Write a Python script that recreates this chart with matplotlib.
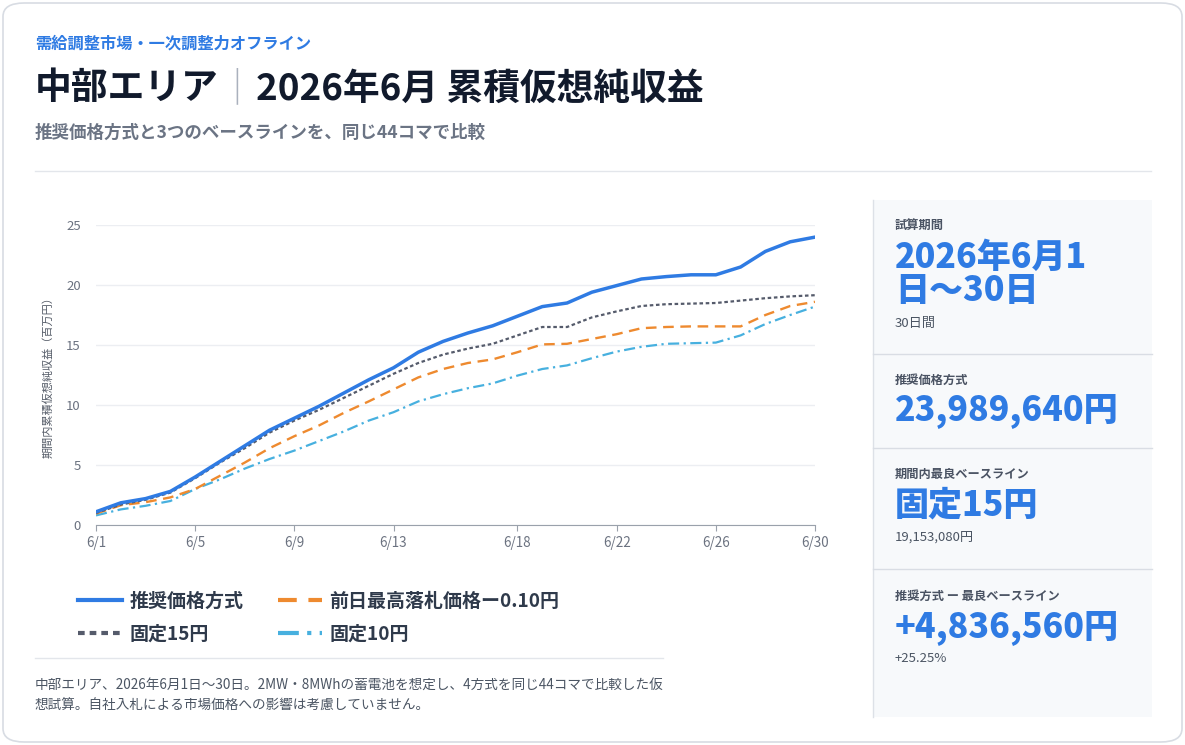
import numpy as np
import matplotlib as mpl
import matplotlib.pyplot as plt
from matplotlib.patches import FancyBboxPatch, Rectangle
from matplotlib.lines import Line2D

mpl.rcParams['font.family'] = ['Noto Sans CJK JP', 'DejaVu Sans']
mpl.rcParams['axes.unicode_minus'] = False

# cumulative virtual net revenue, million yen, 6/1 .. 6/30
days = list(range(1, 31))
recommended = [1.1, 1.85, 2.2, 2.8, 4.0, 5.3, 6.6, 7.9, 8.9, 9.9, 11.0, 12.1, 13.1, 14.4, 15.3,
               16.0, 16.6, 17.4, 18.2, 18.5, 19.4, 19.95, 20.5, 20.7, 20.85, 20.85, 21.5, 22.8, 23.6, 23.99]
prevday_max = [0.95, 1.65, 1.9, 2.3, 3.0, 4.1, 5.2, 6.4, 7.4, 8.3, 9.35, 10.3, 11.3, 12.3, 13.0,
               13.5, 13.8, 14.4, 15.05, 15.1, 15.5, 15.9, 16.4, 16.5, 16.55, 16.55, 16.55, 17.5, 18.25, 18.6]
fixed15 = [1.0, 1.7, 2.1, 2.7, 3.9, 5.2, 6.4, 7.7, 8.7, 9.6, 10.6, 11.6, 12.6, 13.5, 14.2,
           14.7, 15.1, 15.8, 16.5, 16.5, 17.3, 17.8, 18.25, 18.4, 18.45, 18.5, 18.7, 18.9, 19.05, 19.15]
fixed10 = [0.8, 1.3, 1.6, 2.0, 3.0, 3.8, 4.7, 5.5, 6.2, 7.0, 7.8, 8.7, 9.4, 10.3, 10.9,
           11.4, 11.8, 12.45, 13.0, 13.3, 13.9, 14.45, 14.85, 15.1, 15.15, 15.2, 15.8, 16.75, 17.5, 18.2]

xticks = [1, 5, 9, 13, 18, 22, 26, 30]
xticklabels = ['6/1', '6/5', '6/9', '6/13', '6/18', '6/22', '6/26', '6/30']
yticks = [0, 5, 10, 15, 20, 25]

names = ['推奨価格方式', '前日最高落札価格ー0.10円', '固定15円', '固定10円']

BLUE = '#2f7be3'
ORANGE = '#ee8a2f'
GRAY = '#555b6b'
CYAN = '#47b0df'

W, H = 1185, 745
fig = plt.figure(figsize=(W / 100, H / 100), dpi=100)

def fx(x):
    return x / W

def fy(y):
    return 1 - y / H

# card
card = FancyBboxPatch((fx(3), fy(742)), fx(1179), (739) / H,
                      boxstyle='round,pad=0,rounding_size=0.018',
                      transform=fig.transFigure, facecolor='white',
                      edgecolor='#d8dce3', linewidth=1.2, zorder=-5)
fig.patches.append(card)

# header
fig.text(fx(35), fy(44), '需給調整市場・一次調整力オフライン', fontsize=11.7,
         fontweight='bold', color=BLUE, va='center')
renderer = fig.canvas.get_renderer()
t1 = fig.text(fx(35), fy(89), '中部エリア', fontsize=26.5, fontweight='bold',
              color='#111a2c', va='center')
bb = t1.get_window_extent(renderer)
t2 = fig.text(bb.x1 / W, fy(89), '｜', fontsize=26.5, color='#aab1bd', va='center')
bb = t2.get_window_extent(renderer)
fig.text(bb.x1 / W, fy(89), '2026年6月 累積仮想純収益', fontsize=26.5,
         fontweight='bold', color='#111a2c', va='center')
fig.text(fx(35), fy(133), '推奨価格方式と3つのベースラインを、同じ44コマで比較',
         fontsize=12.6, fontweight='bold', color='#6b7484', va='center')
fig.lines.append(Line2D([fx(35), fx(1151)], [fy(171), fy(171)],
                        transform=fig.transFigure, color='#e3e6eb', lw=1))

# chart
ax = fig.add_axes([fx(96), fy(525), (815 - 96) / W, 300 / H])
ax.patch.set_alpha(0)
ax.plot(days, fixed10, color=CYAN, lw=1.6, dashes=(5, 2, 1, 2), label=names[3])
ax.plot(days, prevday_max, color=ORANGE, lw=1.7, dashes=(4.5, 2.8), label=names[1])
ax.plot(days, fixed15, color=GRAY, lw=1.6, dashes=(1.6, 1.2), label=names[2])
ax.plot(days, recommended, color=BLUE, lw=2.5, label=names[0])
ax.set_xlim(1, 30)
ax.set_ylim(0, 25)
ax.set_xticks(xticks)
ax.set_xticklabels(xticklabels)
ax.set_yticks(yticks)
ax.grid(axis='y', color='#eceef2', lw=1)
ax.set_axisbelow(True)
for s in ['top', 'right', 'left']:
    ax.spines[s].set_visible(False)
ax.spines['bottom'].set_color('#9aa1ab')
ax.tick_params(axis='y', length=0, pad=11, labelsize=9.5, labelcolor='#6b7280')
ax.tick_params(axis='x', length=4, color='#9aa1ab', pad=4, labelsize=9.7, labelcolor='#6b7280')
ax.set_ylabel('期間内累積仮想純収益（百万円）', fontsize=8, color='#555c68', labelpad=9)

# legend
h = {l.get_label(): l for l in ax.get_lines()}
order = [names[0], names[2], names[1], names[3]]
leg = fig.legend([h[n] for n in order], order, loc='upper left',
                 bbox_to_anchor=(fx(61), fy(575)), ncol=2, frameon=False,
                 prop={'size': 13.7, 'weight': 'bold'}, handlelength=2.3,
                 handletextpad=0.4, columnspacing=1.8, labelspacing=0.72)
for t in leg.get_texts():
    t.set_color('#2f3a4b')
for l in leg.get_lines():
    l.set_linewidth(3)

fig.lines.append(Line2D([fx(35), fx(663)], [fy(658), fy(658)],
                        transform=fig.transFigure, color='#e3e6eb', lw=1))
fig.text(fx(35), fy(685), '中部エリア、2026年6月1日〜30日。2MW・8MWhの蓄電池を想定し、4方式を同じ44コマで比較した仮',
         fontsize=9.8, color='#4b5563', va='center')
fig.text(fx(35), fy(706), '想試算。自社入札による市場価格への影響は考慮していません。',
         fontsize=9.8, color='#4b5563', va='center')

# right panel
fig.patches.append(Rectangle((fx(873), fy(717)), (1152 - 873) / W, 517 / H,
                             transform=fig.transFigure, facecolor='#f7f9fb',
                             edgecolor='none', zorder=-4))
fig.lines.append(Line2D([fx(873), fx(873)], [fy(200), fy(717)],
                        transform=fig.transFigure, color='#dde1e7', lw=1))
for yy in [354, 448, 569]:
    fig.lines.append(Line2D([fx(873), fx(1152)], [fy(yy), fy(yy)],
                            transform=fig.transFigure, color='#d9dde4', lw=1))

LBL = dict(fontsize=8.8, fontweight='bold', color='#4a5363', va='center')
VAL = dict(fontsize=24.5, fontweight='heavy', color=BLUE, va='center')
SUB = dict(fontsize=9.5, color='#4b5563', va='center')
px = fx(895)
fig.text(px, fy(225), '試算期間', **LBL)
fig.text(px, fy(257), '2026年6月1', **VAL)
fig.text(px, fy(290), '日〜30日', **VAL)
fig.text(px, fy(323), '30日間', **SUB)
fig.text(px, fy(380), '推奨価格方式', **LBL)
fig.text(px, fy(411), '23,989,640円', **VAL)
fig.text(px, fy(474), '期間内最良ベースライン', **LBL)
fig.text(px, fy(505), '固定15円', **VAL)
fig.text(px, fy(537), '19,153,080円', **SUB)
fig.text(px, fy(596), '推奨方式 ー 最良ベースライン', **LBL)
fig.text(px, fy(628), '+4,836,560円', **VAL)
fig.text(px, fy(659), '+25.25%', **SUB)

fig.savefig('out.png', dpi=100)
